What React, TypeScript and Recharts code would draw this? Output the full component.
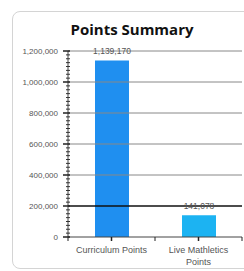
import React from 'react';
import { BarChart, Bar, XAxis, YAxis, ReferenceLine, LabelList, Cell } from 'recharts';

const CATEGORIES = ['Curriculum Points', 'Live Mathletics Points'];
const POINTS = [1139170, 141078];
const BAR_COLORS = ['#1f8ff0', '#1cb3f2'];
const MAJOR_TICKS = [0, 200000, 400000, 600000, 800000, 1000000, 1200000];
const MINOR_STEP = 25000;

const data = CATEGORIES.map((name, i) => ({ name, points: POINTS[i] }));

const allTicks: number[] = [];
for (let v = 0; v <= 1200000; v += MINOR_STEP) allTicks.push(v);

const fmt = (v: number) => v.toLocaleString('en-US');

const YTick = (props: any) => {
  const { x, y, payload } = props;
  const major = MAJOR_TICKS.includes(payload.value);
  if (!major) {
    return <line x1={x - 2} x2={x + 2} y1={y} y2={y} stroke="#333" strokeWidth={1} />;
  }
  return (
    <g>
      <line x1={x - 5} x2={x + 2} y1={y} y2={y} stroke="#222" strokeWidth={1.5} />
      <text x={x - 10} y={y} dy={3} textAnchor="end" fontSize={8} fill="#555">
        {fmt(payload.value)}
      </text>
    </g>
  );
};

const HALF_BAND = 43.5;

const XTick = (props: any) => {
  const { x, y, payload, index } = props;
  const words = String(payload.value).split(' ');
  const lines = payload.value.length > 18 ? [words.slice(0, 2).join(' '), words.slice(2).join(' ')] : [payload.value];
  return (
    <g>
      <line x1={x} x2={x} y1={y} y2={y + 4} stroke="#222" strokeWidth={1.5} />
      {index === 0 && <line x1={x - HALF_BAND} x2={x - HALF_BAND} y1={y} y2={y + 4} stroke="#222" />}
      <line x1={x + HALF_BAND} x2={x + HALF_BAND} y1={y} y2={y + 4} stroke="#222" />
      {lines.map((l: string, i: number) => (
        <text key={i} x={x} y={y + 16 + i * 12} textAnchor="middle" fontSize={9} fill="#555">
          {l}
        </text>
      ))}
    </g>
  );
};

const ValueLabel = (props: any) => {
  const { x, y, width, value } = props;
  return (
    <text x={x + width / 2} y={y - 6} textAnchor="middle" fontSize={8.5} fill="#555">
      {fmt(value)}
    </text>
  );
};

export default function App() {
  return (
    <div
      style={{
        position: 'absolute',
        left: 0,
        top: 0,
        width: 244,
        height: 271,
        overflow: 'hidden',
        background: '#fff',
        fontFamily: 'Liberation Sans, Arial, sans-serif',
      }}
    >
      <div
        style={{
          position: 'absolute',
          left: 12,
          top: 11,
          width: 260,
          height: 256,
          border: '1px solid #d4d4d4',
          borderRadius: 8,
        }}
      />
      <div
        style={{
          position: 'absolute',
          left: 0,
          width: 264,
          top: 19,
          textAlign: 'center',
          fontSize: 15,
          fontWeight: 'bold',
          color: '#111',
          fontFamily: 'Open Sans, sans-serif',
        }}
      >
        Points Summary
      </div>
      <div style={{ position: 'absolute', left: 0, top: 0 }}>
        <BarChart width={244} height={271} data={data} margin={{ top: 51, right: 2, left: 0, bottom: 0 }}>
          {MAJOR_TICKS.slice(1).map((v) => (
            <ReferenceLine
              key={v}
              y={v}
              stroke={v === 200000 ? '#111' : '#888'}
              strokeWidth={v === 200000 ? 1.5 : 1}
            />
          ))}
          <XAxis
            dataKey="name"
            height={34}
            interval={0}
            tickSize={0}
            tickMargin={0}
            tickLine={false}
            axisLine={{ stroke: '#444' }}
            tick={<XTick />}
          />
          <YAxis
            width={68}
            domain={[0, 1200000]}
            ticks={allTicks}
            interval={0}
            tickSize={0}
            tickMargin={0}
            tickLine={false}
            axisLine={{ stroke: '#444' }}
            tick={<YTick />}
          />
          <Bar dataKey="points" barSize={34} isAnimationActive={false}>
            {data.map((d, i) => (
              <Cell key={d.name} fill={BAR_COLORS[i]} />
            ))}
            <LabelList dataKey="points" content={<ValueLabel />} />
          </Bar>
        </BarChart>
      </div>
    </div>
  );
}
